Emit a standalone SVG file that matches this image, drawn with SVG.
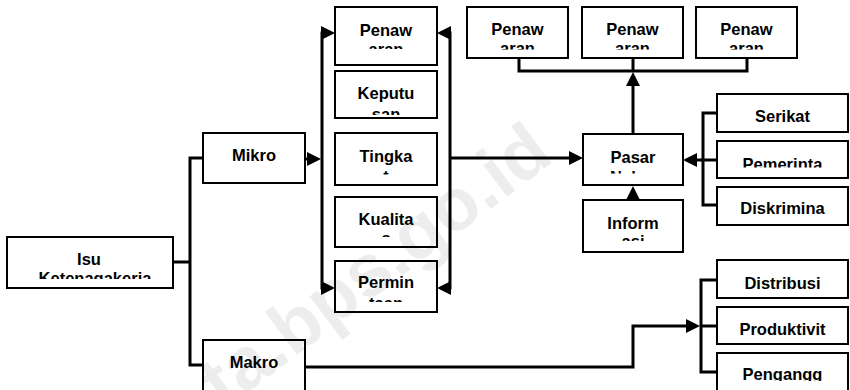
<svg xmlns="http://www.w3.org/2000/svg" width="850" height="390" viewBox="0 0 850 390">
<style>
.box{fill:#fff;stroke:#000;stroke-width:2}
.t{font-family:"Liberation Sans",Arial,sans-serif;font-weight:bold;font-size:16.5px;fill:#000;text-anchor:middle}
.c{fill:none;stroke:#000;stroke-width:3;stroke-linejoin:miter}
.a{marker-end:url(#ah)}
.wm{font-family:"Liberation Sans",Arial,sans-serif;font-weight:bold;font-size:74px;fill:#000;fill-opacity:0.07}
</style>
<defs>
<marker id="ah" markerUnits="userSpaceOnUse" markerWidth="16" markerHeight="16" refX="4" refY="7" orient="auto" viewBox="0 0 16 16">
<path d="M0,0 L14,7 L0,14 z" fill="#000"/>
</marker>
<clipPath id="cpIsu" clipPathUnits="userSpaceOnUse"><rect x="7" y="237" width="166" height="42"/></clipPath>
<clipPath id="cpPen" clipPathUnits="userSpaceOnUse"><rect x="335" y="7" width="102" height="42"/></clipPath>
<clipPath id="cpKep" clipPathUnits="userSpaceOnUse"><rect x="335" y="71" width="102" height="44"/></clipPath>
<clipPath id="cpTin" clipPathUnits="userSpaceOnUse"><rect x="335" y="133" width="102" height="41.5"/></clipPath>
<clipPath id="cpKua" clipPathUnits="userSpaceOnUse"><rect x="335" y="197" width="102" height="40"/></clipPath>
<clipPath id="cpPer" clipPathUnits="userSpaceOnUse"><rect x="335" y="261" width="102" height="41"/></clipPath>
<clipPath id="cpTop" clipPathUnits="userSpaceOnUse"><rect x="460" y="7" width="345" height="42.5"/></clipPath>
<clipPath id="cpPas" clipPathUnits="userSpaceOnUse"><rect x="583" y="134" width="100" height="39.5"/></clipPath>
<clipPath id="cpInf" clipPathUnits="userSpaceOnUse"><rect x="583" y="200" width="100" height="41"/></clipPath>
<clipPath id="cpPem" clipPathUnits="userSpaceOnUse"><rect x="717" y="141" width="131" height="26.5"/></clipPath>
<clipPath id="cpPgg" clipPathUnits="userSpaceOnUse"><rect x="717" y="353" width="131" height="28"/></clipPath>
</defs>
<rect width="850" height="390" fill="#fff"/>

<g id="connectors">
<path class="c" d="M173,262 H190"/>
<path class="c" d="M203,158 H190 V365 H203"/>
<path class="c a" d="M305,159 H311"/>
<path class="c a" d="M322,160 V33 H325"/>
<path class="c a" d="M322,160 V288 H325"/>
<path class="c a" d="M450,158 V33 H447"/>
<path class="c a" d="M450,158 V288 H447"/>
<path class="c a" d="M450,158 H573"/>
<path class="c" d="M519,58 V71 H747 V58"/>
<path class="c" d="M633,58 V71"/>
<path class="c a" d="M633,134 V82"/>
<path class="c a" d="M633,200 V196"/>
<path class="c" d="M717,113 H703 V205 H717"/>
<path class="c a" d="M717,160 H693"/>
<path class="c a" d="M305,367 H633 V326 H690"/>
<path class="c" d="M717,280 H701 V372 H717"/>
<path class="c" d="M701,326 H717"/>
</g>

<g id="isu"><rect class="box" x="7" y="237" width="166" height="51"/>
<g clip-path="url(#cpIsu)"><text class="t" x="89" y="265">Isu</text><text class="t" x="95" y="284">Ketenagakerja</text></g></g>
<g id="mikro"><rect class="box" x="203" y="133" width="102" height="50"/><text class="t" x="254" y="161">Mikro</text></g>
<g id="makro"><rect class="box" x="203" y="340" width="102" height="55"/><text class="t" x="254" y="368">Makro</text></g>

<g id="penawaran"><rect class="box" x="335" y="7" width="102" height="58"/>
<g clip-path="url(#cpPen)"><text class="t" x="386" y="36">Penaw</text><text class="t" x="386" y="54.5">aran</text></g></g>
<g id="keputusan"><rect class="box" x="335" y="71" width="102" height="47"/>
<g clip-path="url(#cpKep)"><text class="t" x="386" y="99">Keputu</text><text class="t" x="386" y="120">san</text></g></g>
<g id="tingkat"><rect class="box" x="335" y="133" width="102" height="52"/>
<g clip-path="url(#cpTin)"><text class="t" x="386" y="162">Tingka</text><text class="t" x="386" y="182">t</text></g></g>
<g id="kualitas"><rect class="box" x="335" y="197" width="102" height="50"/>
<g clip-path="url(#cpKua)"><text class="t" x="386" y="225">Kualita</text><text class="t" x="386" y="243.5">s</text></g></g>
<g id="permintaan"><rect class="box" x="335" y="261" width="102" height="51"/>
<g clip-path="url(#cpPer)"><text class="t" x="386" y="288">Permin</text><text class="t" x="386" y="309">taan</text></g></g>

<g id="top1"><rect class="box" x="467" y="7" width="101" height="51"/>
<g clip-path="url(#cpTop)"><text class="t" x="517.5" y="35">Penaw</text><text class="t" x="517.5" y="54">aran</text></g></g>
<g id="top2"><rect class="box" x="582" y="7" width="101" height="51"/>
<g clip-path="url(#cpTop)"><text class="t" x="632.5" y="35">Penaw</text><text class="t" x="632.5" y="54">aran</text></g></g>
<g id="top3"><rect class="box" x="696" y="7" width="101" height="51"/>
<g clip-path="url(#cpTop)"><text class="t" x="746.5" y="35">Penaw</text><text class="t" x="746.5" y="54">aran</text></g></g>

<g id="pasar"><rect class="box" x="583" y="134" width="100" height="51"/>
<g clip-path="url(#cpPas)"><text class="t" x="633" y="163">Pasar</text><text class="t" x="633" y="182.5">Naker</text></g></g>
<g id="informasi"><rect class="box" x="583" y="200" width="100" height="52"/>
<g clip-path="url(#cpInf)"><text class="t" x="633" y="228.5">Inform</text><text class="t" x="633" y="247">asi</text></g></g>

<g id="serikat"><rect class="box" x="717" y="94" width="131" height="38"/><text class="t" x="782.5" y="122">Serikat</text></g>
<g id="pemerintah"><rect class="box" x="717" y="141" width="131" height="37"/><text class="t" x="782.5" y="170" clip-path="url(#cpPem)">Pemerinta</text></g>
<g id="diskriminasi"><rect class="box" x="717" y="187" width="131" height="38"/><text class="t" x="782.5" y="214">Diskrimina</text></g>

<g id="distribusi"><rect class="box" x="717" y="260" width="131" height="38"/><text class="t" x="782.5" y="288.5">Distribusi</text></g>
<g id="produktivitas"><rect class="box" x="717" y="307" width="131" height="37"/><text class="t" x="782.5" y="335">Produktivit</text></g>
<g id="pengangguran"><rect class="box" x="717" y="353" width="131" height="42"/><text class="t" x="782.5" y="380" clip-path="url(#cpPgg)">Pengangg</text></g>

<text class="wm" transform="translate(224,410) rotate(-37)">ta.bps.go.id</text>
</svg>
